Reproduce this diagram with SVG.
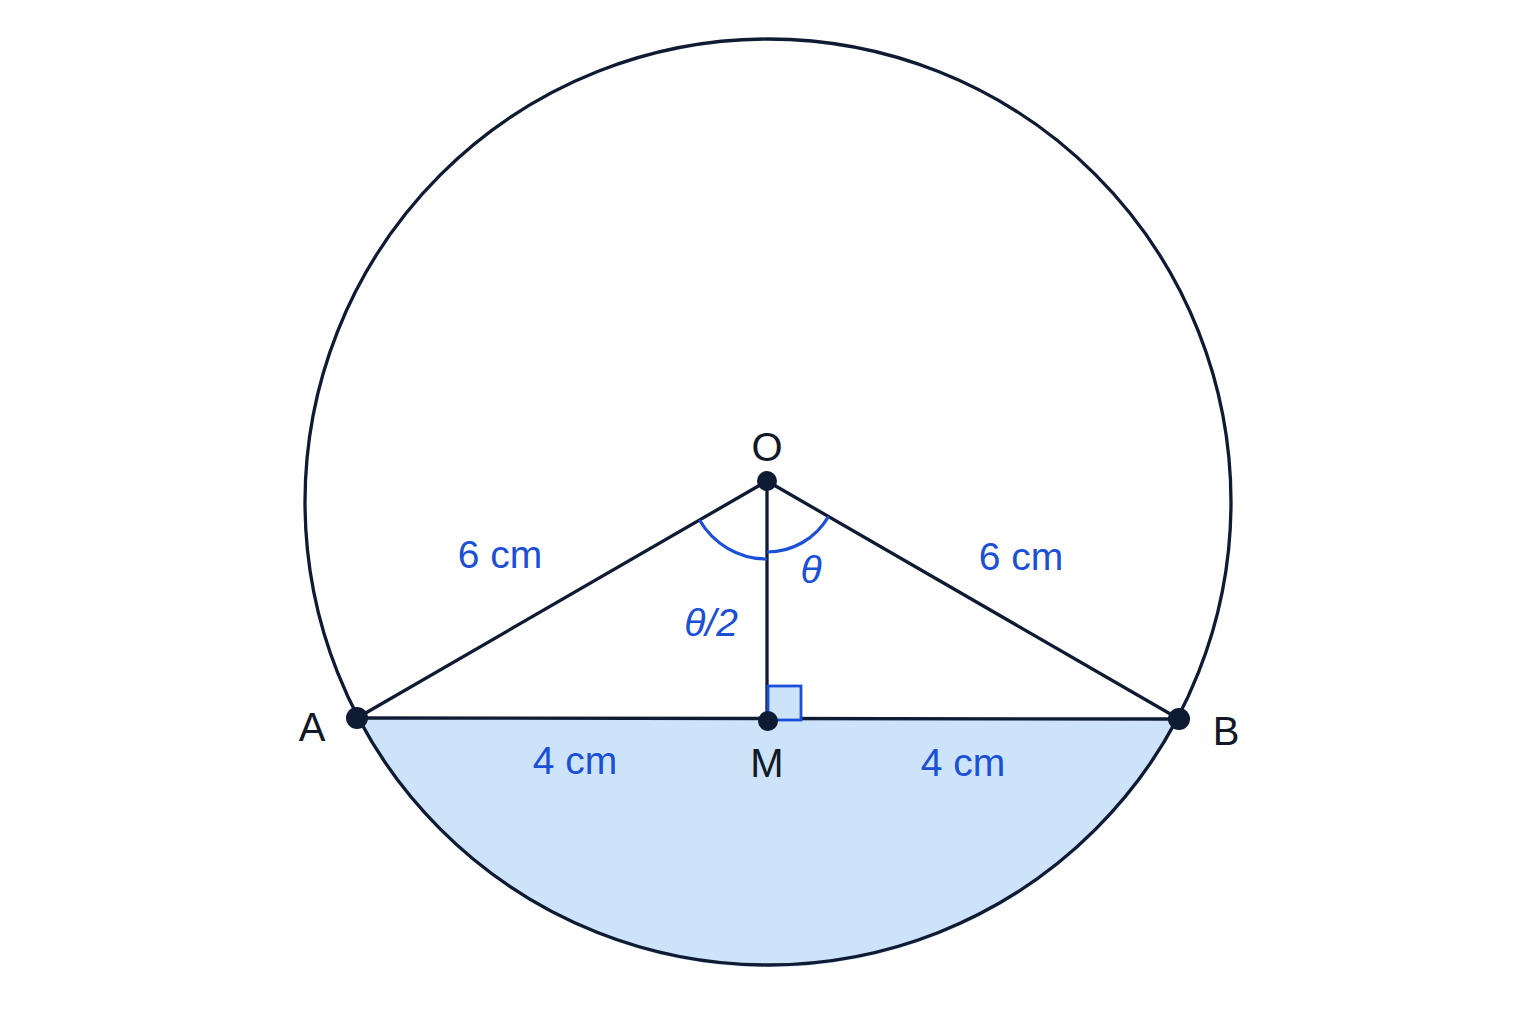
<svg xmlns="http://www.w3.org/2000/svg" width="1536" height="1024" viewBox="0 0 1536 1024">
<style>
.ln{stroke:#0f1a33;stroke-width:3.3;fill:none;stroke-linecap:round}
.dot{fill:#0f1a33}
.lbl{font-family:"Liberation Sans",Arial,sans-serif;font-size:40px;fill:#111827;text-anchor:middle}
.blu{font-family:"Liberation Sans",Arial,sans-serif;font-size:39px;fill:#1a4fd6;text-anchor:middle}
.ang{stroke:#1a4fd6;stroke-width:3.2;fill:none}
</style>
<rect width="1536" height="1024" fill="#ffffff"/>
<g id="segment">
<path d="M357 718 A464 464 0 0 0 1179 719 Z" fill="#cde3f9"/>
</g>
<g id="circle">
<circle cx="768" cy="502" r="463" class="ln" stroke-width="3.8"/>
</g>
<g id="connectors">
<line class="ln" x1="767" y1="481" x2="357" y2="718"/>
<line class="ln" x1="767" y1="481" x2="1179" y2="719"/>
<line class="ln" x1="767" y1="481" x2="767" y2="721"/>
<line class="ln" x1="357" y1="718" x2="1179" y2="719"/>
</g>
<g id="angles">
<path class="ang" d="M699.5 520 A78 78 0 0 0 767 559"/>
<path class="ang" d="M767 552 A71 71 0 0 0 828.5 516.5"/>
<rect x="768" y="686" width="33" height="34" fill="#cde3f9" stroke="#1a4fd6" stroke-width="2.8"/>
</g>
<g id="node-O"><circle class="dot" cx="767" cy="481" r="10"/><text class="lbl" x="767" y="461">O</text></g>
<g id="node-A"><circle class="dot" cx="357" cy="718" r="11"/><text class="lbl" x="312" y="741">A</text></g>
<g id="node-B"><circle class="dot" cx="1179" cy="719" r="11"/><text class="lbl" x="1226" y="745">B</text></g>
<g id="node-M"><circle class="dot" cx="768" cy="721" r="10"/><text class="lbl" x="767" y="777">M</text></g>
<g id="labels">
<text class="blu" x="500" y="568">6 cm</text>
<text class="blu" x="1021" y="570">6 cm</text>
<text class="blu" x="575" y="774">4 cm</text>
<text class="blu" x="963" y="776">4 cm</text>
<text class="blu" x="811" y="583" font-style="italic">θ</text>
<text class="blu" x="711" y="636" font-style="italic">θ/2</text>
</g>
</svg>
